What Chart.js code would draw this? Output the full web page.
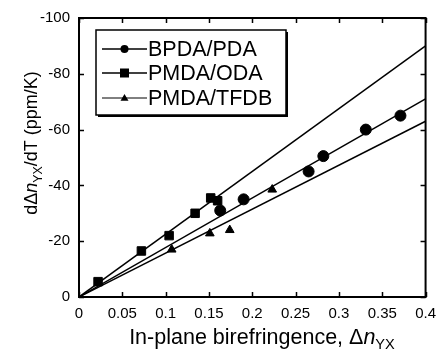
<!DOCTYPE html>
<html>
<head>
<meta charset="utf-8">
<script src="https://cdn.jsdelivr.net/npm/chart.js@4.4.1/dist/chart.umd.min.js"></script>
<style>
  html, body { margin: 0; padding: 0; background: #fff; }
  #wrap { width: 444px; height: 352px; }
</style>
</head>
<body>
<div id="wrap"><canvas id="chart" width="444" height="352"></canvas></div>
<script>
// measured points
const bpdaX = [0.163, 0.19, 0.265, 0.282, 0.331, 0.371];
const bpdaY = [-31, -35, -45, -50.5, -60, -65];
const odaX = [0.022, 0.072, 0.104, 0.134, 0.152, 0.16];
const odaY = [-5.5, -16.5, -22, -30, -35.5, -34.5];
const tfdbX = [0.107, 0.151, 0.174, 0.223];
const tfdbY = [-17, -22.8, -24, -38.5];

// fitted lines through the origin
const fitX = [0, 0.4];
const fitOda = [0, -90];
const fitBpda = [0, -71];
const fitTfdb = [0, -63];

const seriesNames = ['BPDA/PDA', 'PMDA/ODA', 'PMDA/TFDB'];

const xTickValues = [0, 0.05, 0.1, 0.15, 0.2, 0.25, 0.3, 0.35, 0.4];
const xTickLabels = ['0', '0.05', '0.1', '0.15', '0.2', '0.25', '0.3', '0.35', '0.4'];
const yTickValues = [-100, -80, -60, -40, -20, 0];
const yTickLabels = ['-100', '-80', '-60', '-40', '-20', '0'];

const FONT = '"Liberation Sans", Arial, Helvetica, sans-serif';

function pts(xs, ys) {
    return xs.map((x, i) => ({ x: x, y: ys[i] }));
}

function fitSet(ys) {
    return {
        type: 'line',
        data: pts(fitX, ys),
        borderColor: '#000',
        borderWidth: 1.5,
        pointRadius: 0,
        fill: false,
        order: 2
    };
}

function markerSet(xs, ys, style, r) {
    return {
        type: 'scatter',
        data: pts(xs, ys),
        pointStyle: style,
        pointRadius: r,
        backgroundColor: '#000',
        borderColor: '#000',
        borderWidth: 1,
        order: 1
    };
}

function drawMarker(ctx, style, x, y, r) {
    ctx.beginPath();
    if (style === 'circle') {
        ctx.arc(x, y, r, 0, Math.PI * 2);
    } else if (style === 'rect') {
        ctx.rect(x - r, y - r, r * 2, r * 2);
    } else {
        ctx.moveTo(x, y - r);
        ctx.lineTo(x + r, y + r * 0.7);
        ctx.lineTo(x - r, y + r * 0.7);
        ctx.closePath();
    }
    ctx.fill();
}

// draws text pieces: [text, italic, subscript]
function drawRich(ctx, parts, size, x, y) {
    let w = 0;
    const fonts = parts.map(p => {
        const s = p[2] ? size * 0.68 : size;
        const f = (p[1] ? 'italic ' : '') + s + 'px ' + FONT;
        ctx.font = f;
        const pw = ctx.measureText(p[0]).width;
        w += pw;
        return { f: f, w: pw };
    });
    let cx = x - w / 2;
    parts.forEach((p, i) => {
        ctx.font = fonts[i].f;
        ctx.fillText(p[0], cx, y + (p[2] ? size * 0.25 : 0));
        cx += fonts[i].w;
    });
}

const framePlugin = {
    id: 'frame',
    afterDraw(chart) {
        const ctx = chart.ctx;
        const a = chart.chartArea;
        const xs = chart.scales.x;
        const ys = chart.scales.y;
        ctx.save();
        ctx.strokeStyle = '#000';
        ctx.fillStyle = '#000';

        // inward ticks on all four sides
        ctx.lineWidth = 1.5;
        const tl = 5;
        ctx.beginPath();
        xTickValues.forEach(v => {
            const px = Math.round(xs.getPixelForValue(v)) + 0.5;
            ctx.moveTo(px, a.bottom); ctx.lineTo(px, a.bottom - tl);
            ctx.moveTo(px, a.top); ctx.lineTo(px, a.top + tl);
        });
        yTickValues.forEach(v => {
            const py = Math.round(ys.getPixelForValue(v)) + 0.5;
            ctx.moveTo(a.left, py); ctx.lineTo(a.left + tl, py);
            ctx.moveTo(a.right, py); ctx.lineTo(a.right - tl, py);
        });
        ctx.stroke();

        // frame
        ctx.lineWidth = 2;
        ctx.strokeRect(a.left, a.top, a.right - a.left, a.bottom - a.top);

        // legend box with shadow
        const lx = 96, ly = 30, lw = 190, lh = 85;
        ctx.fillRect(lx + 2, ly + 2, lw, lh);
        ctx.fillStyle = '#fff';
        ctx.fillRect(lx, ly, lw, lh);
        ctx.fillStyle = '#000';
        ctx.lineWidth = 1.5;
        ctx.strokeRect(lx, ly, lw, lh);

        const styles = ['circle', 'rect', 'triangle'];
        const radii = [4, 4.5, 4];
        const rows = [49, 73, 98];
        ctx.font = '21.5px ' + FONT;
        ctx.textBaseline = 'middle';
        ctx.textAlign = 'left';
        seriesNames.forEach((name, i) => {
            const y = rows[i];
            ctx.lineWidth = i === 2 ? 1 : 1.5;
            ctx.beginPath();
            ctx.moveTo(102, y); ctx.lineTo(147, y);
            ctx.stroke();
            drawMarker(ctx, styles[i], 124.5, y, radii[i]);
            ctx.fillText(name, 148, y + 1);
        });

        // axis titles
        ctx.textBaseline = 'alphabetic';
        drawRich(ctx, [['In-plane birefringence, \u0394', false, false], ['n', true, false], ['YX', false, true]], 21.5, 262, 344);

        ctx.save();
        ctx.translate(37, 143);
        ctx.rotate(-Math.PI / 2);
        drawRich(ctx, [['d\u0394', false, false], ['n', true, false], ['YX', false, true], ['/dT (ppm/K)', false, false]], 18, 0, 0);
        ctx.restore();

        ctx.restore();
    }
};

new Chart(document.getElementById('chart'), {
    type: 'scatter',
    data: {
        datasets: [
            fitSet(fitOda),
            fitSet(fitBpda),
            fitSet(fitTfdb),
            markerSet(bpdaX, bpdaY, 'circle', 5.5),
            markerSet(odaX, odaY, 'rect', 6),
            markerSet(tfdbX, tfdbY, 'triangle', 5)
        ]
    },
    options: {
        responsive: false,
        devicePixelRatio: 1,
        animation: false,
        layout: { padding: { left: 0, right: 17, top: 16, bottom: 0 } },
        plugins: {
            legend: { display: false },
            tooltip: { enabled: false }
        },
        scales: {
            x: {
                type: 'linear',
                min: 0,
                max: 0.4,
                afterBuildTicks: s => { s.ticks = xTickValues.map(v => ({ value: v })); },
                afterFit: s => { s.height = 55; },
                grid: { display: false, drawTicks: false },
                border: { display: false },
                ticks: {
                    color: '#000',
                    padding: 8,
                    maxRotation: 0,
                    font: { family: FONT, size: 15 },
                    callback: (v, i) => xTickLabels[i]
                }
            },
            y: {
                type: 'linear',
                min: -100,
                max: 0,
                reverse: true,
                afterBuildTicks: s => { s.ticks = yTickValues.map(v => ({ value: v })); },
                afterFit: s => { s.width = 79; },
                grid: { display: false, drawTicks: false },
                border: { display: false },
                ticks: {
                    color: '#000',
                    padding: 9,
                    font: { family: FONT, size: 15 },
                    callback: (v, i) => yTickLabels[i]
                }
            }
        }
    },
    plugins: [framePlugin]
});
</script>
</body>
</html>
